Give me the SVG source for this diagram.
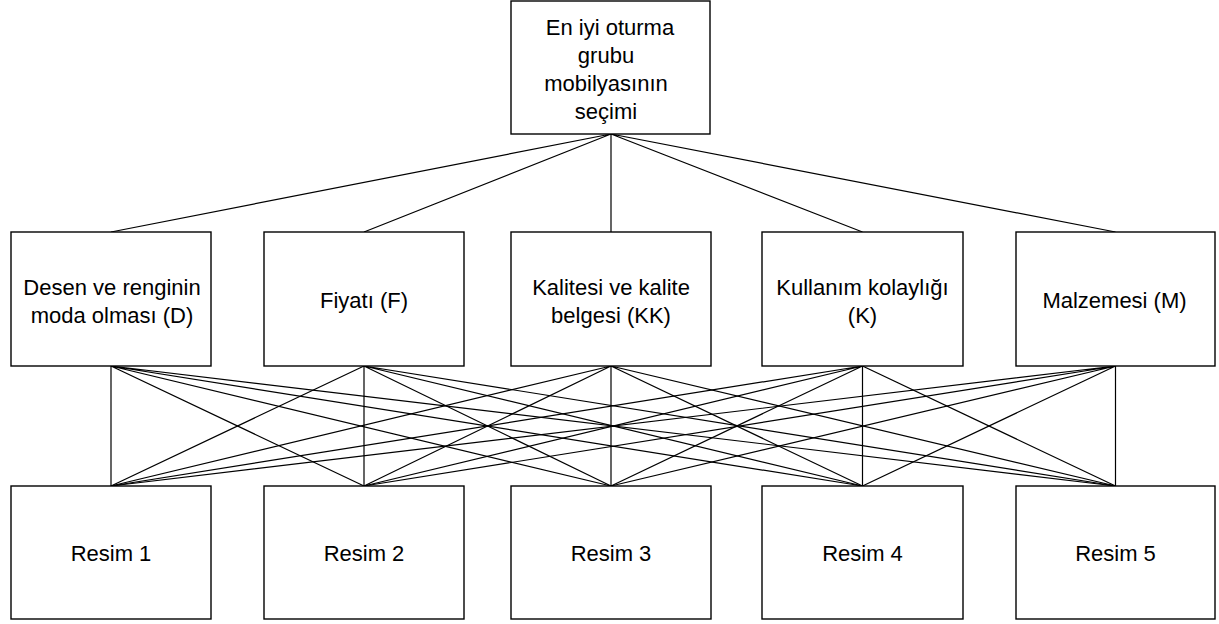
<svg xmlns="http://www.w3.org/2000/svg" width="1219" height="624" viewBox="0 0 1219 624">
  <style>
    .box { fill: #ffffff; stroke: #000000; stroke-width: 1.4; }
    .lbl { font-family: "Liberation Sans", Arial, sans-serif; font-size: 22px; fill: #000000; text-anchor: middle; }
    .link { stroke: #000000; stroke-width: 1.2; fill: none; }
  </style>
  <rect width="1219" height="624" fill="#ffffff"/>

  <!-- connectors: goal to criteria, criteria to alternatives -->
  <g id="connectors" class="link">
    <path d="M611,134 L111,232 M611,134 L364,232 M611,134 L611,232 M611,134 L862.5,232 M611,134 L1115.5,232"/>
    <path d="M111,366 L111,486 M111,366 L364,486 M111,366 L611,486 M111,366 L862.5,486 M111,366 L1115.5,486"/>
    <path d="M364,366 L111,486 M364,366 L364,486 M364,366 L611,486 M364,366 L862.5,486 M364,366 L1115.5,486"/>
    <path d="M611,366 L111,486 M611,366 L364,486 M611,366 L611,486 M611,366 L862.5,486 M611,366 L1115.5,486"/>
    <path d="M862.5,366 L111,486 M862.5,366 L364,486 M862.5,366 L611,486 M862.5,366 L862.5,486 M862.5,366 L1115.5,486"/>
    <path d="M1115.5,366 L111,486 M1115.5,366 L364,486 M1115.5,366 L611,486 M1115.5,366 L862.5,486 M1115.5,366 L1115.5,486"/>
  </g>

  <!-- goal -->
  <g id="goal">
    <rect class="box" x="511" y="1" width="199" height="133"/>
    <text class="lbl" x="610" y="35">En iyi oturma</text>
    <text class="lbl" x="606" y="63">grubu</text>
    <text class="lbl" x="606" y="91">mobilyasının</text>
    <text class="lbl" x="606" y="119">seçimi</text>
  </g>

  <!-- criteria -->
  <g id="criterion-d">
    <rect class="box" x="11" y="232" width="200" height="134"/>
    <text class="lbl" x="112" y="295">Desen ve renginin</text>
    <text class="lbl" x="112" y="323">moda olması (D)</text>
  </g>
  <g id="criterion-f">
    <rect class="box" x="264" y="232" width="200" height="134"/>
    <text class="lbl" x="364" y="308">Fiyatı (F)</text>
  </g>
  <g id="criterion-kk">
    <rect class="box" x="511" y="232" width="200" height="134"/>
    <text class="lbl" x="611" y="295">Kalitesi ve kalite</text>
    <text class="lbl" x="611" y="323">belgesi (KK)</text>
  </g>
  <g id="criterion-k">
    <rect class="box" x="762" y="232" width="201" height="134"/>
    <text class="lbl" x="862.5" y="295">Kullanım kolaylığı</text>
    <text class="lbl" x="862.5" y="323">(K)</text>
  </g>
  <g id="criterion-m">
    <rect class="box" x="1016" y="232" width="199" height="134"/>
    <text class="lbl" x="1114.5" y="308">Malzemesi (M)</text>
  </g>

  <!-- alternatives -->
  <g id="resim-1">
    <rect class="box" x="11" y="486" width="200" height="133"/>
    <text class="lbl" x="111" y="561">Resim 1</text>
  </g>
  <g id="resim-2">
    <rect class="box" x="264" y="486" width="200" height="133"/>
    <text class="lbl" x="364" y="561">Resim 2</text>
  </g>
  <g id="resim-3">
    <rect class="box" x="511" y="486" width="200" height="133"/>
    <text class="lbl" x="611" y="561">Resim 3</text>
  </g>
  <g id="resim-4">
    <rect class="box" x="762" y="486" width="201" height="133"/>
    <text class="lbl" x="862.5" y="561">Resim 4</text>
  </g>
  <g id="resim-5">
    <rect class="box" x="1016" y="486" width="199" height="133"/>
    <text class="lbl" x="1115.5" y="561">Resim 5</text>
  </g>
</svg>
